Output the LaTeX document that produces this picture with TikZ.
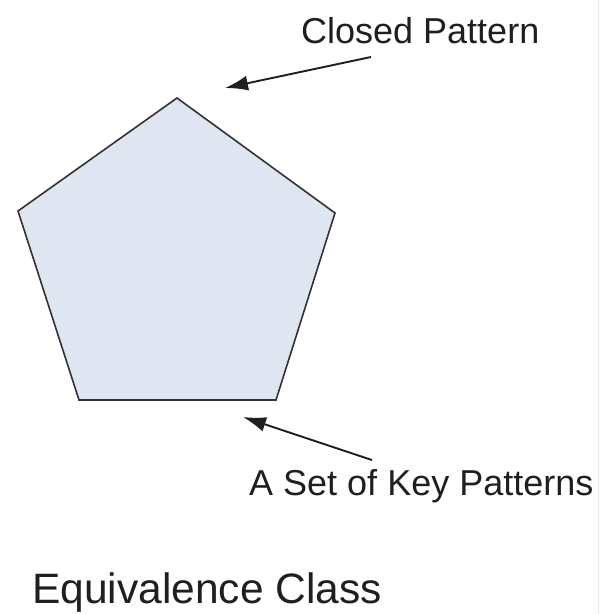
\documentclass[tikz,border=0pt]{standalone}
\usepackage{fontspec}
\setmainfont{Liberation Sans}
\usetikzlibrary{arrows.meta, positioning}
\definecolor{PaleBlue}{RGB}{223,230,242}
\definecolor{EdgeGray}{RGB}{50,50,50}
\tikzset{
  >=latex,
  % testi
  label text/.style={inner sep=0, anchor=base west, font=\fontsize{36}{40}\selectfont, text=black!88},
  title text/.style={inner sep=0, anchor=base west, font=\fontsize{42.5}{46}\selectfont, text=black!88},
  % frecce
  pointer/.style={-{Latex[length=23pt,width=15pt]}, line width=1.9pt, black!88}
}
\begin{document}
\begin{tikzpicture}[x=1pt,y=-1pt]
    \useasboundingbox (0,0) rectangle (600,614);
    \draw[black!8, line width=1pt](598,0)--(598,614);
    % pentagono
    \coordinate (top) at (177,98);
    \coordinate (right) at (335,213);
    \coordinate (br) at (276,400);
    \coordinate (bl) at (79,400);
    \coordinate (left) at (18,211);
    \draw[EdgeGray, fill=PaleBlue, line width=1.6pt, line join=miter]
      (top)--(right)--(br)--(bl)--(left)--cycle;
    % etichette
    \node[label text] (closed) at (301,43) {Closed Pattern};
    \node[label text] (keys) at (249,495) {A Set of Key Patterns};
    \node[title text] (eqclass) at (32,603) {Equivalence Class};
    % frecce
    \coordinate (c tail) at (371,57);
    \coordinate (c tip) at (225,88);
    \coordinate (k tail) at (372,460);
    \coordinate (k tip) at (243,417);
    \draw[pointer](c tail)--(c tip);
    \draw[pointer](k tail)--(k tip);
  \end{tikzpicture}
\end{document}
